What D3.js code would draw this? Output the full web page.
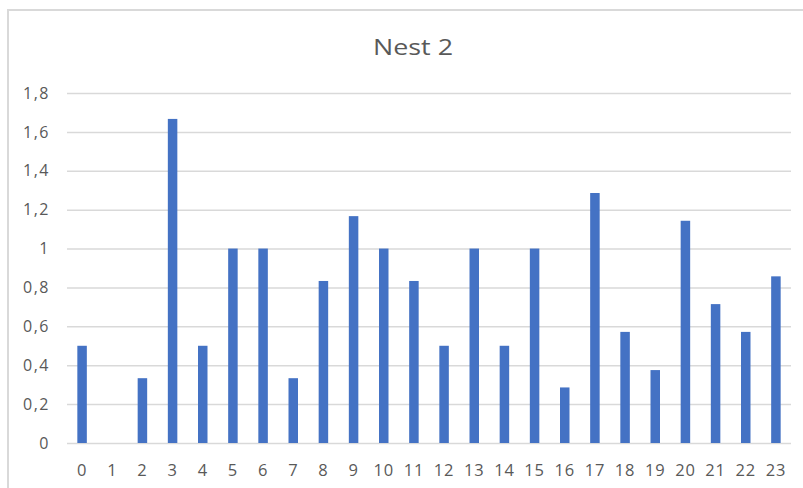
<!DOCTYPE html>
<html>
<head>
<meta charset="utf-8">
<script src="https://cdn.jsdelivr.net/npm/d3@7"></script>
<style>
  html, body { margin: 0; padding: 0; background: #fff; }
  svg { display: block; }
</style>
</head>
<body>
<svg id="chart" width="803" height="488"></svg>
<script>
// Hourly values for nest 2
const hours = d3.range(0, 24).map(String);
const values = [0.5, 0, 0.3333, 1.6667, 0.5, 1, 1, 0.3333, 0.8333, 1.1667, 1, 0.8333,
                0.5, 1, 0.5, 1, 0.2857, 1.2857, 0.5714, 0.375, 1.1429, 0.7143, 0.5714, 0.8571];
const yTicks = [0, 0.2, 0.4, 0.6, 0.8, 1, 1.2, 1.4, 1.6, 1.8];
const title = "Nest 2";

const W = 803, H = 488;
const margin = { left: 67, right: 12, top: 93, bottom: 45 };
const font = "'Open Sans', sans-serif";
const textColor = "#595959";

const svg = d3.select("#chart");

// outer chart frame
svg.append("path")
  .attr("d", `M8,${H} L8,10 L${W},10`)
  .attr("fill", "none")
  .attr("stroke", "#d9d9d9")
  .attr("stroke-width", 2);

const x = d3.scaleBand()
  .domain(hours)
  .range([margin.left, W - margin.right])
  .paddingInner(0.685)
  .paddingOuter(0.3425);

const y = d3.scaleLinear()
  .domain([0, 1.8])
  .range([H - margin.bottom, margin.top]);

const fmt = v => d3.format("~g")(v).replace(".", ",");

// gridlines + y labels
const yAxis = d3.axisLeft(y)
  .tickValues(yTicks)
  .tickSize(-(W - margin.right - margin.left))
  .tickPadding(18)
  .tickFormat(fmt);

const gy = svg.append("g")
  .attr("transform", `translate(${margin.left},0)`)
  .call(yAxis);
gy.select(".domain").remove();
gy.selectAll(".tick line").attr("stroke", "#d9d9d9").attr("stroke-width", 1.5);
gy.selectAll(".tick text")
  .attr("fill", textColor)
  .attr("x", -17)
  .style("font-family", font)
  .style("font-size", "16px")
  .style("letter-spacing", "1.5px");

// bars
svg.append("g")
  .selectAll("rect")
  .data(values)
  .join("rect")
  .attr("x", (d, i) => x(hours[i]))
  .attr("width", x.bandwidth())
  .attr("y", d => y(d))
  .attr("height", d => y(0) - y(d))
  .attr("fill", "#4472c4");

// x labels
const xAxis = d3.axisBottom(x).tickSize(0).tickPadding(21);
const gx = svg.append("g")
  .attr("transform", `translate(0,${y(0)})`)
  .call(xAxis);
gx.select(".domain").remove();
gx.selectAll(".tick text")
  .attr("fill", textColor)
  .style("font-family", font)
  .style("font-size", "16.5px")
  .style("letter-spacing", "0.8px");

// title
svg.append("text")
  .attr("x", 373)
  .attr("y", 55)
  .attr("textLength", 80)
  .attr("lengthAdjust", "spacingAndGlyphs")
  .attr("fill", textColor)
  .style("font-family", font)
  .style("font-size", "21px")
  .text(title);
</script>
</body>
</html>
